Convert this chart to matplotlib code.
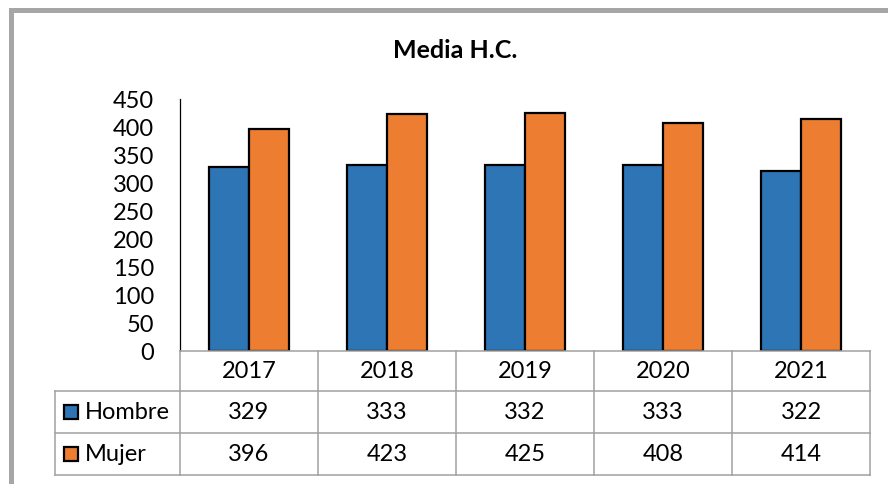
import matplotlib
matplotlib.use("Agg")
import matplotlib.pyplot as plt
from matplotlib.patches import Rectangle
from matplotlib.lines import Line2D

plt.rcParams['font.family'] = ['Lato', 'DejaVu Sans']

years = ["2017", "2018", "2019", "2020", "2021"]
hombre = [329, 333, 332, 333, 322]
mujer = [396, 423, 425, 408, 414]
series_names = ["Hombre", "Mujer"]
colors = ["#2E75B6", "#ED7D31"]
yticks = [0, 50, 100, 150, 200, 250, 300, 350, 400, 450]

W, H = 888, 485
fig = plt.figure(figsize=(W / 100, H / 100), dpi=100)

def fx(px):
    return px / W

def fy(py):
    return 1 - py / H

# outer gray frame (top and left visible)
fig.patches.append(Rectangle((fx(10.5), fy(H + 20)), fx(W + 40 - 10.5), fy(10.5) - fy(H + 20),
                             transform=fig.transFigure, fill=False,
                             edgecolor="#A6A6A6", linewidth=3.6, zorder=0))

ax_l, ax_r, ax_t, ax_b = 180, 870, 100, 352
ax = fig.add_axes([fx(ax_l), fy(ax_b), fx(ax_r - ax_l), fy(ax_t) - fy(ax_b)])

n = len(years)
xs = list(range(n))
bw = 0.29
ax.bar([x - bw / 2 for x in xs], hombre, width=bw, color=colors[0],
       edgecolor="black", linewidth=1.6, zorder=3)
ax.bar([x + bw / 2 for x in xs], mujer, width=bw, color=colors[1],
       edgecolor="black", linewidth=1.6, zorder=3)
ax.set_xlim(-0.5, n - 0.5)
ax.set_ylim(0, 450)
ax.set_yticks(yticks)
ax.set_yticklabels([str(v) for v in yticks], fontsize=17)
ax.tick_params(axis='y', length=0, pad=18.5)
ax.set_xticks([])
for s in ["top", "right", "bottom"]:
    ax.spines[s].set_visible(False)
ax.spines["left"].set_linewidth(0.9)
ax.spines["left"].set_color("black")

fig.text(fx(455), fy(50), "Media H.C.", ha="center", va="center",
         fontsize=18, fontweight="bold")

# data table
tcol = "#A0A0A0"
col_edges = [ax_l + i * (ax_r - ax_l) / n for i in range(n + 1)]
row_edges = [352, 392, 434, 476]
tab_left = 55

def hline(y, x0, x1):
    fig.add_artist(Line2D([fx(x0), fx(x1)], [fy(y), fy(y)], color=tcol, linewidth=1.1,
                          transform=fig.transFigure))

def vline(x, y0, y1):
    fig.add_artist(Line2D([fx(x), fx(x)], [fy(y0), fy(y1)], color=tcol, linewidth=1.1,
                          transform=fig.transFigure))

hline(row_edges[0], ax_l, ax_r)
for y in row_edges[1:]:
    hline(y, tab_left, ax_r)
for x in col_edges:
    vline(x, row_edges[0], row_edges[3])
vline(tab_left, row_edges[1], row_edges[3])

fs = 17
for i, yr in enumerate(years):
    cx = (col_edges[i] + col_edges[i + 1]) / 2
    fig.text(fx(cx), fy((row_edges[0] + row_edges[1]) / 2), yr,
             ha="center", va="center", fontsize=fs)
    fig.text(fx(cx), fy((row_edges[1] + row_edges[2]) / 2), str(hombre[i]),
             ha="center", va="center", fontsize=fs)
    fig.text(fx(cx), fy((row_edges[2] + row_edges[3]) / 2), str(mujer[i]),
             ha="center", va="center", fontsize=fs)

for r, (name, c) in enumerate(zip(series_names, colors)):
    cy = (row_edges[r + 1] + row_edges[r + 2]) / 2
    fig.patches.append(Rectangle((fx(64), fy(cy + 7)), fx(14), fy(cy - 7) - fy(cy + 7),
                                 transform=fig.transFigure, facecolor=c,
                                 edgecolor="black", linewidth=1.6))
    fig.text(fx(85), fy(cy), name, ha="left", va="center", fontsize=fs)

fig.savefig("out.png", dpi=100)
